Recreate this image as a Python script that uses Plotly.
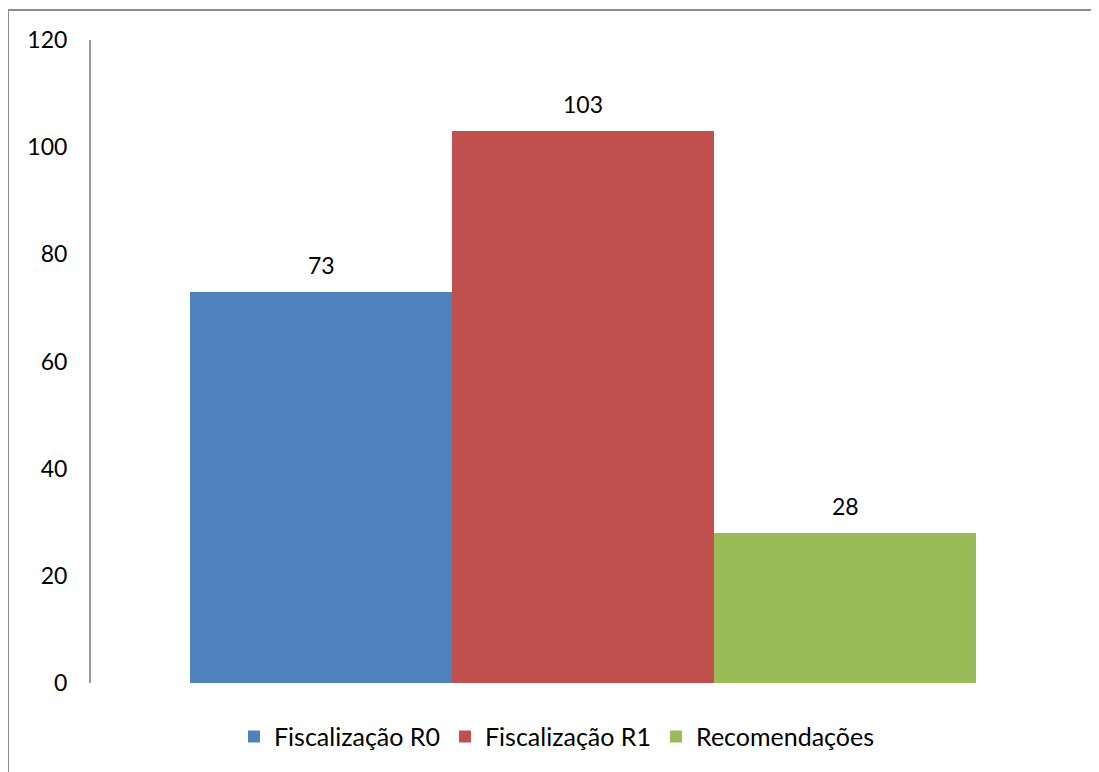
import plotly.graph_objects as go

# chart data
series_names = ["Fiscalização R0", "Fiscalização R1", "Recomendações"]
series_values = [73, 103, 28]
series_colors = ["#4F81BD", "#C0504D", "#9BBB59"]
y_ticks = [0, 20, 40, 60, 80, 100, 120]

# the html page puts the figure 8px in from the top-left corner
W, H = 1091, 764
ML, MT, MR, MB = 83, 32, 24, 87
plot_w = W - ML - MR
plot_h = H - MT - MB

fig = go.Figure()

for i, (name, val, col) in enumerate(zip(series_names, series_values, series_colors)):
    fig.add_trace(
        go.Bar(
            x=[i],
            y=[val],
            name=name,
            marker_color=col,
            marker_line_width=0,
            width=1,
        )
    )
    # value label above each bar
    fig.add_annotation(
        x=i,
        y=val,
        text=str(val),
        showarrow=False,
        yanchor="bottom",
        yshift=11,
        font=dict(size=23, color="black"),
    )

# outer chart border (only left/top visible in the crop)
fig.add_shape(
    type="rect",
    xref="paper",
    yref="paper",
    x0=(0 - ML) / plot_w,
    x1=1.2,
    y0=-0.3,
    y1=(plot_h + MT - 2) / plot_h,
    line=dict(color="#8c8c8c", width=2),
    layer="below",
)

fig.update_layout(
    width=W,
    height=H,
    margin=dict(l=ML, r=MR, t=MT, b=MB),
    paper_bgcolor="white",
    plot_bgcolor="white",
    font=dict(family="Lato, Open Sans, sans-serif", size=23, color="black"),
    barmode="group",
    bargap=0,
    showlegend=True,
    legend=dict(
        orientation="h",
        xanchor="center",
        x=(549 - ML) / plot_w,
        yanchor="middle",
        y=-54 / plot_h,
        font=dict(size=25),
        itemclick=False,
    ),
    xaxis=dict(
        range=[-0.5 - 99 / 262, 2.5 + 99 / 262],
        showticklabels=False,
        showgrid=False,
        zeroline=False,
        showline=False,
        ticks="",
    ),
    yaxis=dict(
        range=[0, 120],
        tickvals=y_ticks,
        showgrid=False,
        zeroline=False,
        showline=True,
        linecolor="#999999",
        linewidth=2,
        ticks="",
        ticklabelstandoff=17,
        tickfont=dict(size=23),
        automargin=False,
    ),
    hovermode=False,
)

fig.write_html("out.html")
